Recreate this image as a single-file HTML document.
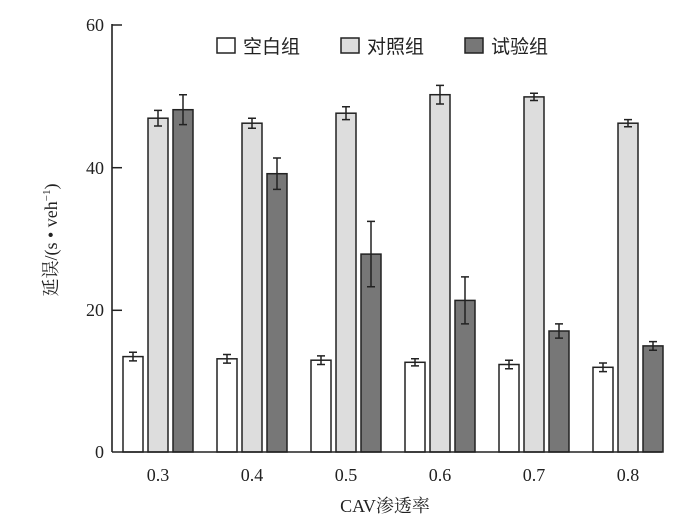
<!DOCTYPE html>
<html><head><meta charset="utf-8"><style>body{margin:0;background:#fff}</style></head><body>
<svg width="700" height="518" xmlns="http://www.w3.org/2000/svg" font-family="'Liberation Serif','Noto Serif CJK SC',serif">
<rect width="700" height="518" fill="#fff"/>
<g stroke="#222" stroke-width="1.5">
<rect x="123" y="356.6" width="20" height="95.4" fill="#fff"/>
<rect x="148" y="118.2" width="20" height="333.8" fill="#ddd"/>
<rect x="173" y="109.7" width="20" height="342.3" fill="#777"/>
<rect x="217" y="358.8" width="20" height="93.2" fill="#fff"/>
<rect x="242" y="123.2" width="20" height="328.8" fill="#ddd"/>
<rect x="267" y="173.7" width="20" height="278.3" fill="#777"/>
<rect x="311" y="360.2" width="20" height="91.8" fill="#fff"/>
<rect x="336" y="113.2" width="20" height="338.8" fill="#ddd"/>
<rect x="361" y="254.1" width="20" height="197.9" fill="#777"/>
<rect x="405" y="362.3" width="20" height="89.7" fill="#fff"/>
<rect x="430" y="94.7" width="20" height="357.3" fill="#ddd"/>
<rect x="455" y="300.4" width="20" height="151.6" fill="#777"/>
<rect x="499" y="364.5" width="20" height="87.5" fill="#fff"/>
<rect x="524" y="96.9" width="20" height="355.1" fill="#ddd"/>
<rect x="549" y="331" width="20" height="121" fill="#777"/>
<rect x="593" y="367.3" width="20" height="84.7" fill="#fff"/>
<rect x="618" y="123.2" width="20" height="328.8" fill="#ddd"/>
<rect x="643" y="345.9" width="20" height="106.1" fill="#777"/>
</g>
<path fill="none" stroke="#222" stroke-width="1.5" d="
M133,352.3V360.9M129,352.3H137M129,360.9H137
M158,110.4V126M154,110.4H162M154,126H162
M183,94.8V124.6M179,94.8H187M179,124.6H187
M227,354.5V363.1M223,354.5H231M223,363.1H231
M252,118.2V128.2M248,118.2H256M248,128.2H256
M277,158V189.4M273,158H281M273,189.4H281
M321,355.9V364.5M317,355.9H325M317,364.5H325
M346,106.8V119.6M342,106.8H350M342,119.6H350
M371,221.4V286.8M367,221.4H375M367,286.8H375
M415,358.7V365.9M411,358.7H419M411,365.9H419
M440,85.4V104M436,85.4H444M436,104H444
M465,276.9V323.9M461,276.9H469M461,323.9H469
M509,360.2V368.8M505,360.2H513M505,368.8H513
M534,93.3V100.5M530,93.3H538M530,100.5H538
M559,323.9V338.1M555,323.9H563M555,338.1H563
M603,363V371.6M599,363H607M599,371.6H607
M628,119.6V126.8M624,119.6H632M624,126.8H632
M653,341.6V350.2M649,341.6H657M649,350.2H657"/>
<line x1="112" y1="24" x2="112" y2="452" stroke="#222" stroke-width="1.6"/>
<line x1="112" y1="452" x2="662" y2="452" stroke="#222" stroke-width="1.6"/>
<g stroke="#222" stroke-width="1.5">
<line x1="112" y1="25" x2="122" y2="25"/><line x1="112" y1="167.7" x2="122" y2="167.7"/><line x1="112" y1="310.3" x2="122" y2="310.3"/>
</g>
<g font-size="18" text-anchor="end" fill="#222">
<text x="104" y="31">60</text><text x="104" y="174">40</text><text x="104" y="316">20</text><text x="104" y="458">0</text>
</g>
<g font-size="18" text-anchor="middle" fill="#222">
<text x="158" y="481">0.3</text><text x="252" y="481">0.4</text><text x="346" y="481">0.5</text><text x="440" y="481">0.6</text><text x="534" y="481">0.7</text><text x="628" y="481">0.8</text>
<text x="385" y="512">CAV渗透率</text>
<text transform="translate(57,240) rotate(-90)">延误/(s • veh<tspan font-size="11" dy="-7">−1</tspan><tspan dy="7">)</tspan></text>
</g>
<g stroke="#222" stroke-width="1.5">
<rect x="217" y="38" width="18" height="15" fill="#fff"/>
<rect x="341" y="38" width="18" height="15" fill="#ddd"/>
<rect x="465" y="38" width="18" height="15" fill="#777"/>
</g>
<g font-size="19" fill="#222" font-family="'Noto Sans CJK SC',sans-serif">
<text x="243" y="53">空白组</text><text x="367" y="53">对照组</text><text x="491" y="53">试验组</text>
</g>
</svg>
</body></html>
